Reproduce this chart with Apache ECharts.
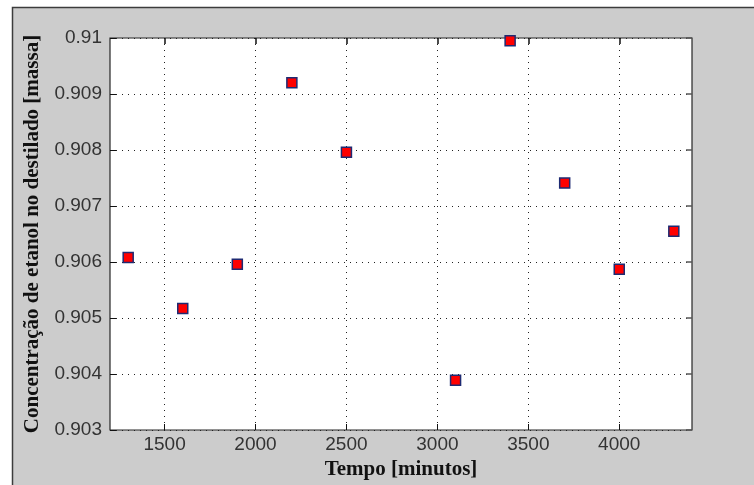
<!DOCTYPE html>
<html>
<head>
<meta charset="utf-8">
<script src="https://cdn.jsdelivr.net/npm/echarts@6/dist/echarts.min.js"></script>
<style>
  html, body { margin: 0; padding: 0; background: #ffffff; }
  #chart { width: 754px; height: 485px; }
</style>
</head>
<body>
<div id="chart"></div>
<script>
// Tempo (min) x concentração de etanol no destilado
const tempos = [1300, 1600, 1900, 2200, 2500, 3100, 3400, 3700, 4000, 4300];
const concentracoes = [0.90608, 0.90517, 0.90596, 0.90920, 0.90796, 0.90389, 0.90995, 0.90741, 0.90587, 0.90655];
const xTicks = [1500, 2000, 2500, 3000, 3500, 4000];
const yTicks = [0.903, 0.904, 0.905, 0.906, 0.907, 0.908, 0.909, 0.91];

const chart = echarts.init(document.getElementById('chart'), null, { renderer: 'canvas' });

const tickFont = { fontFamily: 'Liberation Sans', fontSize: 19, color: '#333333' };
const titleFont = { fontFamily: 'Liberation Serif', fontWeight: 'bold', fontSize: 21, color: '#111' };
const dotted = { color: '#222', width: 1, type: [1, 5] };

function fmtX(v) {
  return String(Math.round(v));
}
function fmtY(v) {
  return String(parseFloat(v.toFixed(3)));
}

chart.setOption({
  backgroundColor: '#ffffff',
  animation: false,
  graphic: [{
    type: 'rect',
    shape: { x: 12.5, y: 7.5, width: 760, height: 500 },
    style: { fill: '#cccccc', stroke: '#3c3c3c', lineWidth: 1.5 },
    z: -10
  }],
  grid: {
    left: 110, right: 62, top: 38, bottom: 55,
    show: true, backgroundColor: '#ffffff', borderColor: '#262626', borderWidth: 1.2
  },
  xAxis: [{
    type: 'value', min: 1200, max: 4400, position: 'bottom',
    name: 'Tempo [minutos]', nameLocation: 'middle', nameGap: 29,
    nameTextStyle: titleFont,
    axisLine: { show: false },
    axisTick: { show: true, inside: true, length: 6, customValues: xTicks, lineStyle: { color: '#111' } },
    axisLabel: { show: true, margin: 5, customValues: xTicks, formatter: fmtX, ...tickFont },
    splitLine: { show: true, customValues: xTicks, lineStyle: dotted }
  }, {
    type: 'value', min: 1200, max: 4400, position: 'top',
    axisLine: { show: false },
    axisTick: { show: true, inside: true, length: 6, customValues: xTicks, lineStyle: { color: '#111', width: 1.5 } },
    axisLabel: { show: false },
    splitLine: { show: false }
  }],
  yAxis: [{
    type: 'value', min: 0.903, max: 0.91, interval: 0.001, position: 'left',
    name: 'Concentração de etanol no destilado [massa]', nameLocation: 'middle', nameGap: 66,
    nameTextStyle: titleFont,
    axisLine: { show: false },
    axisTick: { show: true, inside: true, length: 6, lineStyle: { color: '#111' } },
    axisLabel: { show: true, margin: 8, formatter: fmtY, ...tickFont },
    splitLine: { show: true, lineStyle: dotted }
  }, {
    type: 'value', min: 0.903, max: 0.91, interval: 0.001, position: 'right',
    axisLine: { show: false },
    axisTick: { show: true, inside: true, length: 6, lineStyle: { color: '#555', width: 1.5 } },
    axisLabel: { show: false },
    splitLine: { show: false }
  }],
  series: [{
    type: 'scatter',
    xAxisIndex: 0, yAxisIndex: 0,
    data: tempos.map((t, i) => [t, concentracoes[i]]),
    symbol: 'rect',
    symbolSize: 10,
    itemStyle: { color: '#ff0000', borderColor: '#1e2a72', borderWidth: 1.5, opacity: 1 },
    z: 5
  }]
});
</script>
</body>
</html>
